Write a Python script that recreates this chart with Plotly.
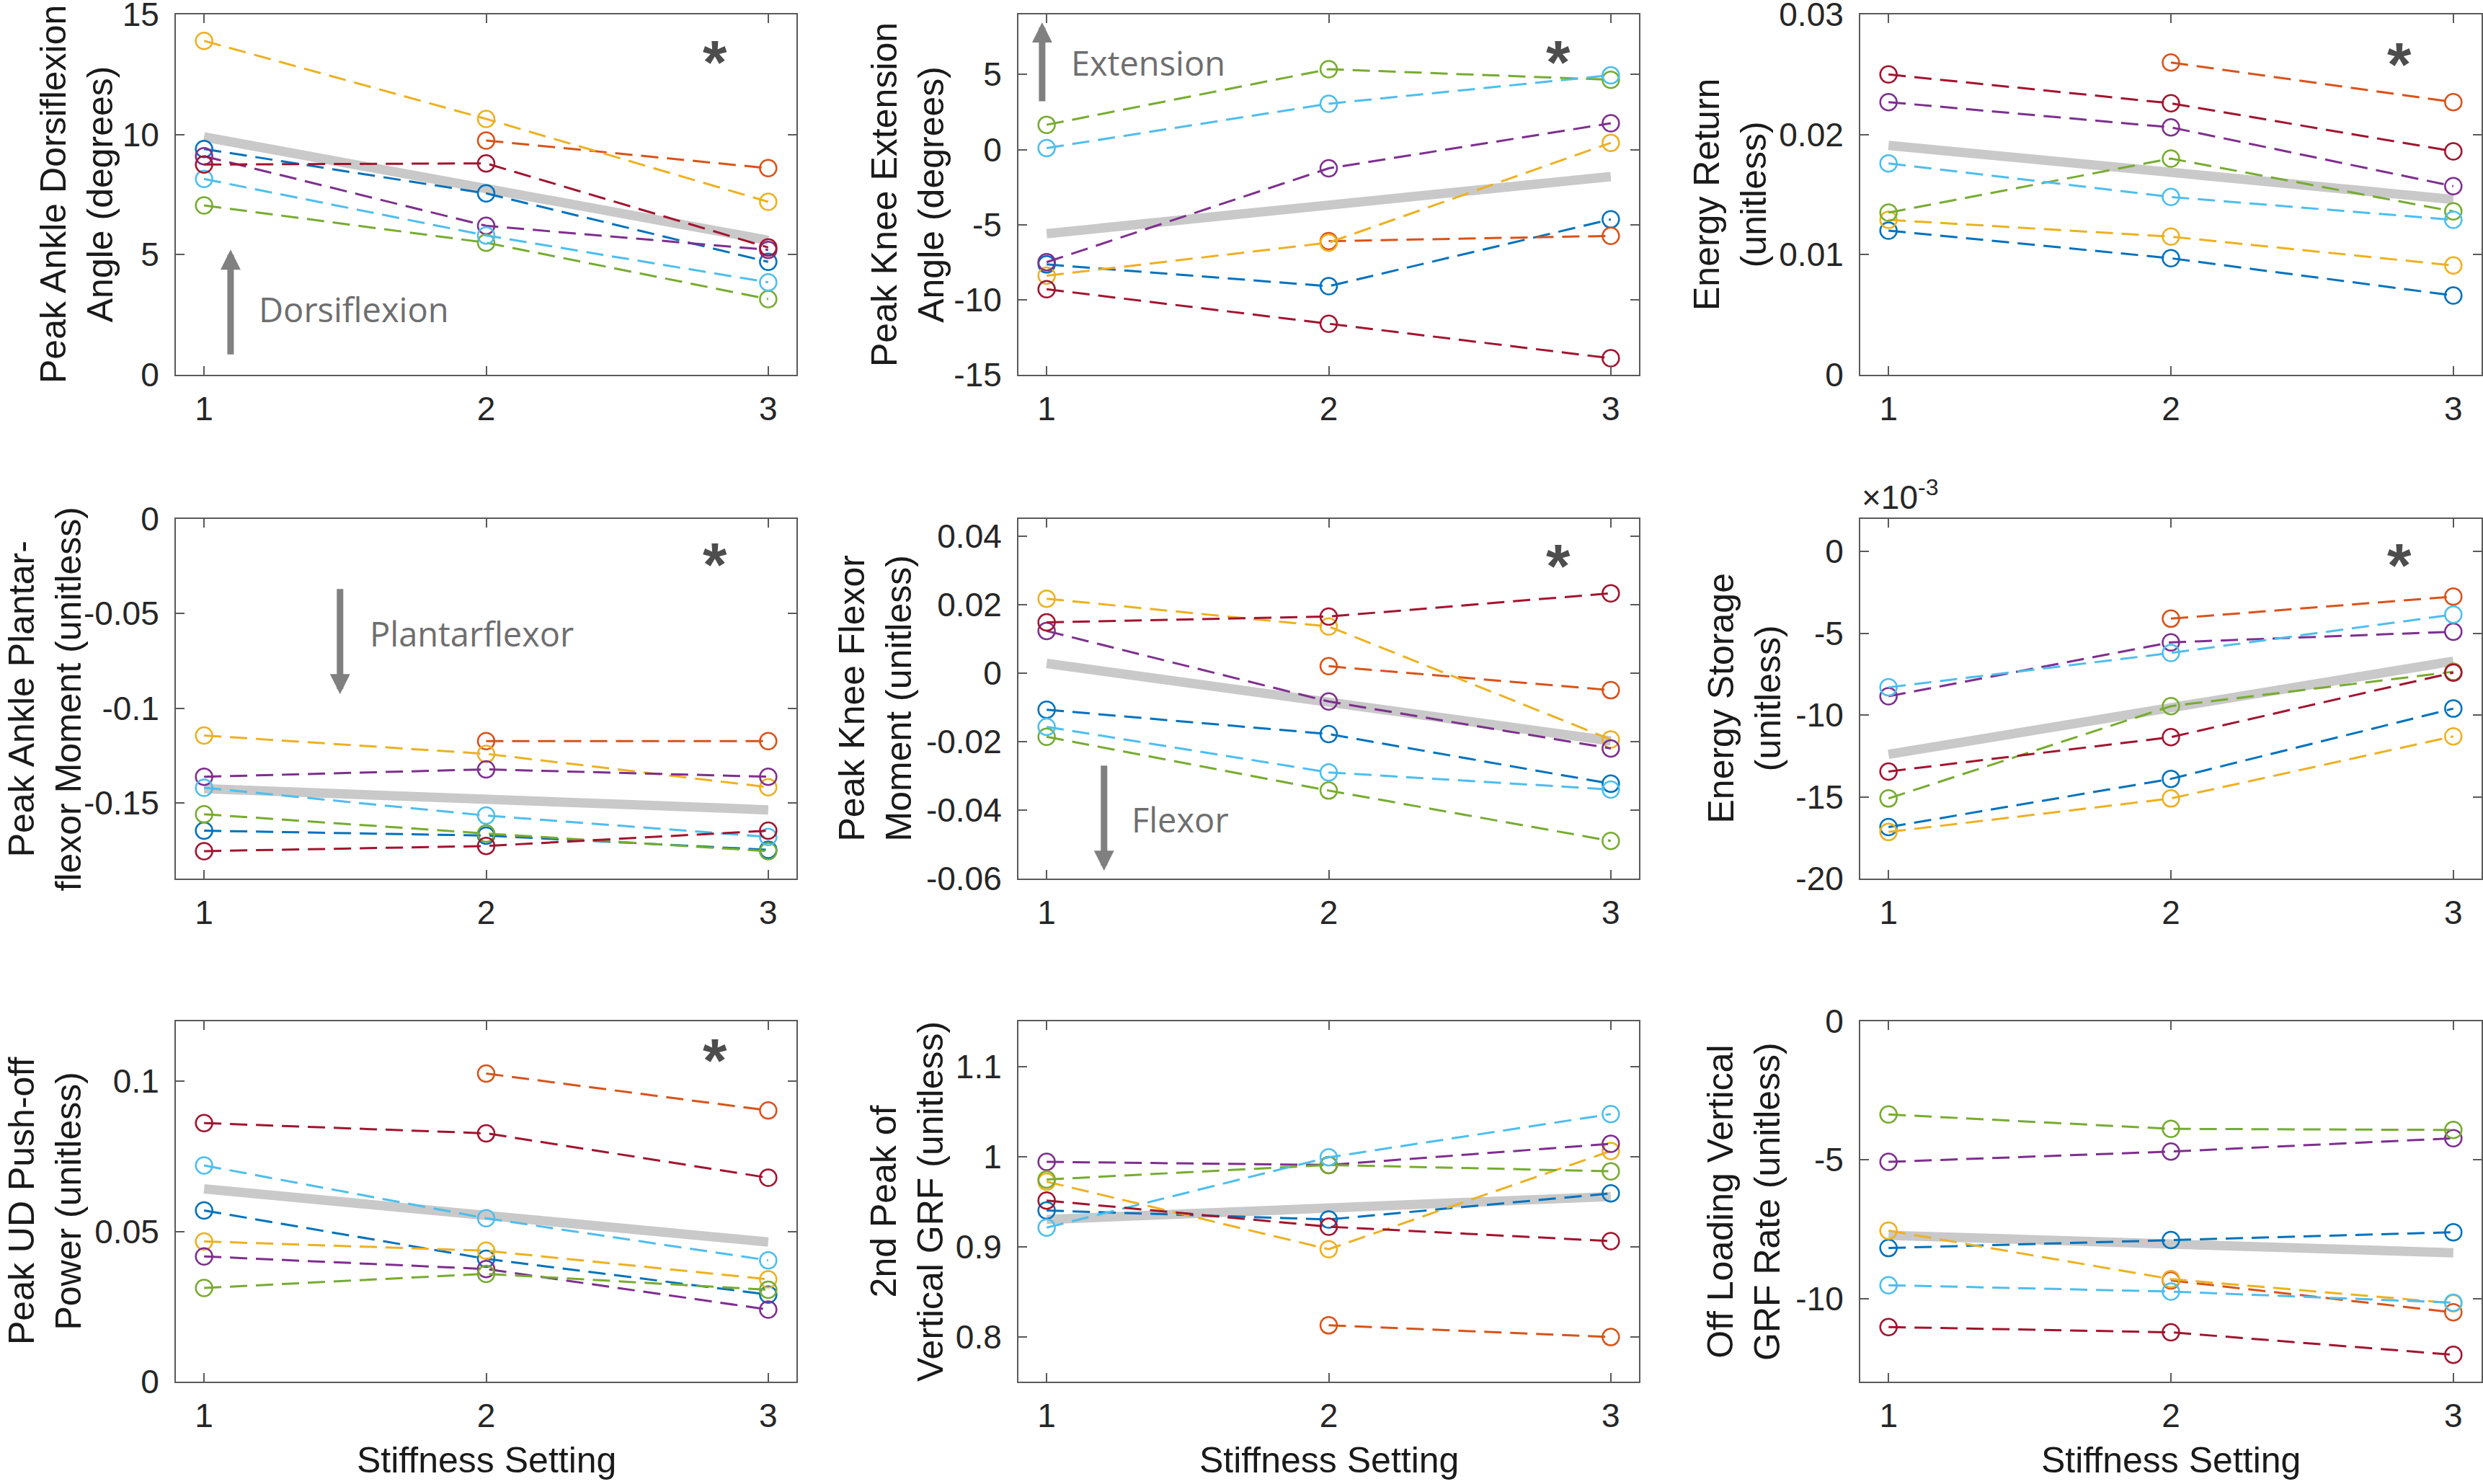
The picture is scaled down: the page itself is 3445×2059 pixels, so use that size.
import plotly.graph_objects as go

# ---------------- data ----------------
stiffness = [1, 2, 3]
trend_x = [1, 3]
subject_colors = ["#0072BD", "#D95319", "#EDB120", "#7E2F8E", "#77AC30", "#4DBEEE", "#A2142F"]

# order of rows in each panel: blue, orange, yellow, purple, green, cyan, dark red
ankle_dorsiflexion = [
    [9.4, 7.55, 4.7],
    [None, 9.75, 8.6],
    [13.9, 10.65, 7.2],
    [9.1, 6.2, 5.2],
    [7.05, 5.5, 3.15],
    [8.15, 5.8, 3.85],
    [8.75, 8.8, 5.3],
]
ankle_dorsiflexion_trend = [9.9, 5.6]

knee_extension = [
    [-7.65, -9.1, -4.65],
    [None, -6.1, -5.75],
    [-8.4, -6.2, 0.45],
    [-7.5, -1.25, 1.75],
    [1.65, 5.35, 4.65],
    [0.1, 3.05, 4.95],
    [-9.3, -11.6, -13.9],
]
knee_extension_trend = [-5.6, -1.8]

energy_return = [
    [0.0120, 0.0097, 0.0066],
    [None, 0.0260, 0.0227],
    [0.0129, 0.0115, 0.0091],
    [0.0227, 0.0206, 0.0157],
    [0.0135, 0.0180, 0.0136],
    [0.0176, 0.0148, 0.0129],
    [0.0250, 0.0226, 0.0186],
]
energy_return_trend = [0.0191, 0.0146]

plantarflexor_moment = [
    [-0.1647, -0.1673, -0.1748],
    [None, -0.1174, -0.1174],
    [-0.1144, -0.1241, -0.1417],
    [-0.1362, -0.1323, -0.1362],
    [-0.1560, -0.1662, -0.1755],
    [-0.1420, -0.1567, -0.1680],
    [-0.1755, -0.1728, -0.1647],
]
plantarflexor_moment_trend = [-0.1425, -0.1537]

knee_flexor_moment = [
    [-0.0107, -0.0178, -0.0323],
    [None, 0.0020, -0.0050],
    [0.0217, 0.0136, -0.0194],
    [0.0123, -0.0083, -0.0220],
    [-0.0186, -0.0343, -0.0490],
    [-0.0157, -0.0290, -0.0340],
    [0.0148, 0.0165, 0.0233],
]
knee_flexor_moment_trend = [0.0028, -0.0198]

energy_storage_e3 = [  # in units of 1e-3
    [-16.85, -13.9, -9.6],
    [None, -4.1, -2.75],
    [-17.15, -15.1, -11.3],
    [-8.85, -5.55, -4.9],
    [-15.1, -9.45, -7.35],
    [-8.3, -6.2, -3.85],
    [-13.45, -11.35, -7.4],
]
energy_storage_e3_trend = [-12.4, -6.7]

pushoff_power = [
    [0.0570, 0.0409, 0.0290],
    [None, 0.1026, 0.0903],
    [0.0467, 0.0436, 0.0341],
    [0.0417, 0.0375, 0.0240],
    [0.0312, 0.0359, 0.0306],
    [0.0720, 0.0544, 0.0404],
    [0.0861, 0.0827, 0.0679],
]
pushoff_power_trend = [0.0642, 0.0465]

grf_second_peak = [
    [0.940, 0.930, 0.959],
    [None, 0.8125, 0.7995],
    [0.972, 0.897, 1.006],
    [0.994, 0.9905, 1.014],
    [0.9744, 0.9905, 0.9835],
    [0.921, 0.999, 1.047],
    [0.951, 0.922, 0.906],
]
grf_second_peak_trend = [0.930, 0.9555]

offloading_rate = [
    [-8.18, -7.89, -7.61],
    [None, -9.35, -10.5],
    [-7.55, -9.3, -10.17],
    [-5.07, -4.7, -4.22],
    [-3.36, -3.88, -3.92],
    [-9.52, -9.75, -10.15],
    [-11.03, -11.22, -12.03],
]
offloading_rate_trend = [-7.72, -8.35]

y_titles = [
    "Peak Ankle Dorsiflexion<br>Angle (degrees)",
    "Peak Knee Extension<br>Angle (degrees)",
    "Energy Return<br>(unitless)",
    "Peak Ankle Plantar-<br>flexor Moment (unitless)",
    "Peak Knee Flexor<br>Moment (unitless)",
    "Energy Storage<br>(unitless)",
    "Peak UD Push-off<br>Power (unitless)",
    "2nd Peak of<br>Vertical GRF (unitless)",
    "Off Loading Vertical<br>GRF Rate (unitless)",
]
x_title = "Stiffness Setting"

y_tickvals = [
    [0, 5, 10, 15],
    [-15, -10, -5, 0, 5],
    [0, 0.01, 0.02, 0.03],
    [-0.15, -0.1, -0.05, 0],
    [-0.06, -0.04, -0.02, 0, 0.02, 0.04],
    [-20, -15, -10, -5, 0],
    [0, 0.05, 0.1],
    [0.8, 0.9, 1.0, 1.1],
    [-10, -5, 0],
]
y_ticktext = [
    ["0", "5", "10", "15"],
    ["-15", "-10", "-5", "0", "5"],
    ["0", "0.01", "0.02", "0.03"],
    ["-0.15", "-0.1", "-0.05", "0"],
    ["-0.06", "-0.04", "-0.02", "0", "0.02", "0.04"],
    ["-20", "-15", "-10", "-5", "0"],
    ["0", "0.05", "0.1"],
    ["0.8", "0.9", "1", "1.1"],
    ["-10", "-5", "0"],
]
y_ranges = [
    [0, 15], [-15, 9], [0, 0.03],
    [-0.19, 0], [-0.06, 0.045], [-20, 2],
    [0, 0.12], [0.75, 1.15], [-13, 0],
]

panels = [
    (ankle_dorsiflexion, ankle_dorsiflexion_trend),
    (knee_extension, knee_extension_trend),
    (energy_return, energy_return_trend),
    (plantarflexor_moment, plantarflexor_moment_trend),
    (knee_flexor_moment, knee_flexor_moment_trend),
    (energy_storage_e3, energy_storage_e3_trend),
    (pushoff_power, pushoff_power_trend),
    (grf_second_peak, grf_second_peak_trend),
    (offloading_rate, offloading_rate_trend),
]

# significance marks (panel index, x, y)
asterisks = [
    (0, 2.81, 13.3), (1, 2.815, 6.27), (2, 2.81, 0.0264),
    (3, 2.81, -0.0207), (4, 2.815, 0.0332), (5, 2.81, -0.44),
    (6, 2.81, 0.1093),
]

# direction arrows: (panel, x, tail_y, tip_y, label, label_x, label_y)
direction_arrows = [
    (0, 1.094, 0.80, 5.21, "Dorsiflexion", 1.189, 2.72),
    (1, 0.984, 3.14, 8.47, "Extension", 1.082, 5.78),
    (3, 1.482, -0.0365, -0.0926, "Plantarflexor", 1.583, -0.0606),
    (4, 1.2035, -0.0267, -0.0577, "Flexor", 1.297, -0.0428),
]

# ---------------- layout geometry ----------------
W, H = 3445, 2059
col_px = [(244, 1105), (1413, 2274), (2581, 3443)]
row_px = [(20, 520), (720, 1219), (1417, 1917)]
ytitle_center_px = [106, 1259, 2400, 62, 1214, 2420, 63, 1259, 2420]

FONT = "Liberation Sans, Arial, Helvetica, sans-serif"
NOTE_FONT = "Open Sans, Noto Sans, sans-serif"
AX_COLOR = "#5a5a5a"
TICK_COLOR = "#262626"

fig = go.Figure()
layout = dict(
    width=W, height=H,
    margin=dict(l=0, r=0, t=0, b=0),
    paper_bgcolor="white", plot_bgcolor="white",
    showlegend=False,
)
annotations = []

for i, (series, trend) in enumerate(panels):
    r, c = divmod(i, 3)
    n = i + 1
    xa = "x" if n == 1 else f"x{n}"
    ya = "y" if n == 1 else f"y{n}"
    xkey = "xaxis" if n == 1 else f"xaxis{n}"
    ykey = "yaxis" if n == 1 else f"yaxis{n}"

    fig.add_trace(go.Scatter(
        x=trend_x, y=trend, mode="lines",
        line=dict(color="#c9c9c9", width=13),
        xaxis=xa, yaxis=ya, hoverinfo="skip",
    ))
    for s, vals in enumerate(series):
        fig.add_trace(go.Scatter(
            x=stiffness, y=vals, mode="lines+markers",
            line=dict(color=subject_colors[s], width=3, dash="24px,12px"),
            marker=dict(symbol="circle-open", size=23,
                        line=dict(color=subject_colors[s], width=2.5)),
            connectgaps=False,
            xaxis=xa, yaxis=ya,
        ))

    x0, x1 = col_px[c]
    y0, y1 = row_px[r]
    lo, hi = y_ranges[i]
    eps = (hi - lo) * 1e-6
    common = dict(
        showline=True, linecolor=AX_COLOR, linewidth=2, mirror="ticks",
        ticks="inside", ticklen=12, tickwidth=2, tickcolor=AX_COLOR,
        showgrid=False, zeroline=False,
        tickfont=dict(family=FONT, size=46, color=TICK_COLOR),
        ticklabeloverflow="allow",
        automargin=False,
    )
    layout[xkey] = dict(
        common, domain=[x0 / W, x1 / W], range=[0.9, 3.1],
        tickvals=stiffness, ticktext=["1", "2", "3"],
        anchor=ya, ticklabelstandoff=6,
    )
    layout[ykey] = dict(
        common, domain=[1 - y1 / H, 1 - y0 / H], range=[lo - eps, hi + eps],
        tickvals=y_tickvals[i], ticktext=y_ticktext[i],
        anchor=xa, ticklabelstandoff=12,
    )

    annotations.append(dict(
        text=y_titles[i], textangle=-90,
        xref="paper", x=ytitle_center_px[i] / W, xanchor="center",
        yref=f"{ya} domain", y=0.5, yanchor="middle",
        showarrow=False, font=dict(family=FONT, size=50, color="#1a1a1a"),
    ))
    if r == 2:
        annotations.append(dict(
            text=x_title, xref=f"{xa} domain", x=0.5, xanchor="center",
            yref="paper", y=1 - 2026 / H, yanchor="middle",
            showarrow=False, font=dict(family=FONT, size=50, color="#1a1a1a"),
        ))

for (p, ax_x, ax_y) in asterisks:
    n = p + 1
    annotations.append(dict(
        text="<b>*</b>", x=ax_x, y=ax_y,
        xref="x" if n == 1 else f"x{n}", yref="y" if n == 1 else f"y{n}",
        xanchor="center", yanchor="middle", yshift=-9, showarrow=False,
        font=dict(family=FONT, size=86, color="#4d4d4d"),
    ))

for (p, ax_x, tail_y, tip_y, label, lx, ly) in direction_arrows:
    n = p + 1
    xr = "x" if n == 1 else f"x{n}"
    yr = "y" if n == 1 else f"y{n}"
    annotations.append(dict(
        text="", x=ax_x, y=tip_y, ax=ax_x, ay=tail_y,
        xref=xr, yref=yr, axref=xr, ayref=yr,
        showarrow=True, arrowhead=2, arrowsize=0.62, arrowwidth=9,
        arrowcolor="#808080", standoff=0, startstandoff=0,
    ))
    annotations.append(dict(
        text=label, x=lx, y=ly, xref=xr, yref=yr,
        xanchor="left", yanchor="middle", showarrow=False,
        font=dict(family=NOTE_FONT, size=47, color="#6e6e6e"),
    ))

# x10^-3 multiplier for the energy storage panel
annotations.append(dict(
    text="\u00d710<sup>-3</sup>", xref="x6 domain", x=0.0, xanchor="left",
    yref="y6 domain", y=1.0, yanchor="bottom", yshift=2, showarrow=False,
    font=dict(family=FONT, size=46, color=TICK_COLOR),
))

layout["annotations"] = annotations
fig.update_layout(**layout)
fig.write_html("out.html")
